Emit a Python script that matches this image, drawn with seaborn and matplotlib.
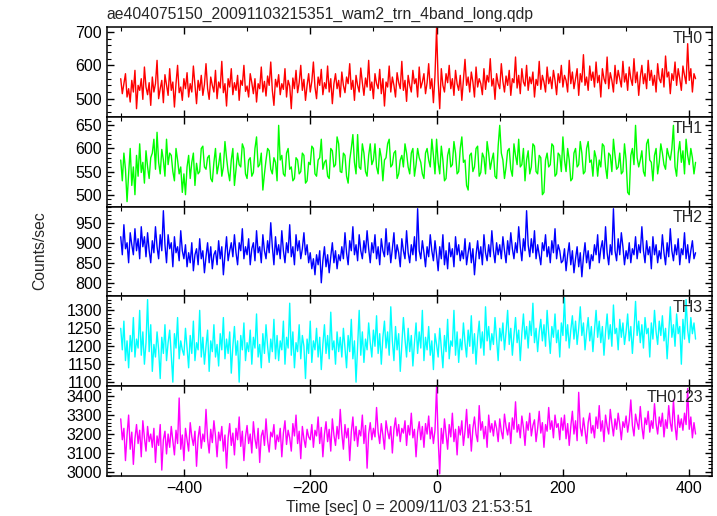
import numpy as np
import pandas as pd
import matplotlib
matplotlib.use("Agg")
import matplotlib.pyplot as plt
from matplotlib.ticker import MultipleLocator
import seaborn as sns

# light curve samples, 2.5 s bins starting at t = -500 s
th0 = [560, 515, 545, 575, 505, 530, 490, 555, 520, 585, 470, 540, 525, 560, 498, 595, 535, 512, 548, 480,
       565, 520, 545, 615, 500, 530, 555, 488, 572, 540, 510, 590, 525, 550, 475, 545, 600, 518, 535, 495,
       560, 530, 578, 505, 545, 520, 598, 540, 485, 555, 525, 570, 510, 542, 605, 530, 498, 565, 540, 520,
       585, 500, 550, 532, 612, 518, 545, 478, 560, 535, 590, 512, 548, 525, 570, 495, 555, 540, 600, 522,
       538, 505, 575, 548, 515, 560, 490, 545, 530, 595, 520, 552, 508, 568, 540, 610, 525, 480, 558, 535,
       572, 512, 545, 528, 590, 505, 555, 538, 470, 562, 530, 585, 518, 548, 600, 525, 558, 495, 540, 575,
       520, 552, 610, 535, 500, 565, 540, 588, 512, 548, 530, 598, 520, 560, 485, 545, 575, 530, 555, 505,
       580, 540, 518, 565, 545, 605, 528, 555, 495, 570, 540, 520, 592, 548, 510, 562, 535, 615, 525, 550,
       500, 575, 545, 530, 588, 515, 560, 478, 550, 535, 598, 520, 565, 540, 505, 578, 548, 530, 612, 525,
       555, 492, 570, 540, 520, 585, 545, 560, 505, 595, 532, 550, 575, 515, 548, 605, 530, 560, 488, 570,
       712, 555, 470, 590, 540, 520, 575, 548, 600, 530, 560, 510, 585, 545, 525, 570, 495, 555, 618, 540,
       565, 520, 580, 550, 505, 595, 535, 560, 545, 512, 590, 528, 570, 550, 620, 538, 560, 498, 575, 545,
       530, 605, 552, 520, 568, 540, 585, 510, 560, 548, 625, 532, 570, 515, 590, 550, 538, 600, 525, 565,
       545, 580, 505, 558, 540, 612, 528, 570, 550, 520, 595, 545, 565, 530, 585, 555, 512, 575, 548, 600,
       535, 570, 555, 520, 615, 545, 580, 530, 560, 590, 510, 575, 550, 632, 540, 565, 525, 598, 555, 580,
       535, 610, 548, 570, 505, 590, 560, 545, 625, 530, 578, 555, 520, 600, 545, 585, 560, 535, 612, 550,
       575, 525, 595, 560, 540, 620, 548, 580, 510, 565, 600, 545, 575, 530, 615, 555, 585, 540, 570, 520,
       605, 560, 548, 590, 535, 628, 565, 580, 515, 575, 555, 610, 540, 590, 560, 525, 598, 570, 545, 665,
       555, 590, 520, 575, 560]
th1 = [575, 530, 590, 555, 485, 545, 600, 520, 560, 500, 585, 540, 610, 548, 570, 525, 595, 560, 535, 580,
       590, 620, 555, 635, 570, 545, 598, 575, 540, 620, 565, 590, 585, 550, 530, 600, 575, 545, 560, 505,
       545, 500, 560, 585, 535, 570, 590, 520, 568, 545, 550, 600, 605, 560, 555, 580, 585, 535, 528, 570,
       600, 545, 565, 590, 540, 560, 615, 580, 550, 530, 575, 600, 520, 555, 590, 565, 560, 610, 600, 545,
       535, 575, 580, 540, 548, 600, 625, 560, 565, 590, 510, 545, 575, 600, 595, 555, 545, 580, 570, 530,
       650, 575, 585, 545, 540, 590, 600, 555, 560, 530, 535, 580, 575, 545, 550, 590, 585, 525, 530, 570,
       565, 605, 600, 545, 540, 575, 580, 620, 555, 570, 575, 540, 535, 600, 595, 560, 565, 625, 610, 550,
       548, 590, 585, 540, 525, 575, 600, 630, 570, 545, 630, 560, 555, 610, 590, 550, 540, 585, 610, 565,
       575, 610, 560, 545, 600, 580, 530, 575, 580, 610, 620, 560, 565, 590, 595, 535, 545, 575, 585, 560,
       610, 590, 560, 545, 590, 600, 540, 565, 600, 580, 570, 545, 535, 590, 600, 575, 560, 620, 585, 545,
       620, 570, 545, 605, 575, 530, 535, 585, 600, 560, 565, 615, 590, 545, 550, 600, 625, 570, 575, 520,
       510, 585, 590, 550, 560, 600, 605, 540, 548, 590, 580, 545, 615, 590, 555, 575, 590, 540, 535, 605,
       650, 590, 575, 535, 560, 595, 600, 555, 540, 610, 585, 565, 620, 560, 565, 600, 530, 575, 595, 545,
       560, 610, 605, 550, 545, 585, 580, 500, 505, 575, 590, 560, 565, 610, 605, 540, 545, 590, 585, 550,
       625, 575, 550, 600, 575, 530, 535, 590, 600, 560, 565, 615, 590, 545, 550, 600, 615, 570, 575, 540,
       595, 580, 540, 575, 560, 610, 605, 560, 535, 590, 585, 550, 620, 585, 555, 560, 590, 545, 550, 610,
       575, 505, 500, 585, 600, 565, 650, 580, 560, 575, 595, 550, 540, 610, 620, 575, 570, 530, 585, 600,
       545, 570, 610, 590, 565, 555, 600, 585, 575, 600, 650, 560, 540, 590, 615, 570, 595, 545, 620, 585,
       565, 600, 580, 545, 570]
th2 = [915, 870, 945, 885, 900, 850, 925, 895, 870, 935, 880, 910, 860, 940, 890, 915, 865, 925, 880, 850,
       905, 875, 940, 890, 860, 920, 880, 980, 895, 850, 920, 885, 900, 840, 915, 875, 890, 855, 930, 880,
       860, 895, 840, 875, 850, 900, 830, 870, 885, 845, 910, 860, 880, 825, 865, 900, 850, 890, 835, 870,
       880, 845, 905, 860, 890, 820, 870, 915, 855, 880, 900, 865, 920, 875, 845, 900, 880, 935, 860, 890,
       870, 910, 845, 885, 900, 855, 930, 875, 890, 850, 920, 880, 860, 905, 875, 950, 890, 845, 915, 870,
       895, 860, 930, 880, 850, 900, 875, 945, 865, 890, 845, 920, 880, 905, 860, 885, 925, 870, 895, 850,
       875, 835, 860, 820, 870, 845, 880, 800, 855, 890, 840, 870, 825, 865, 900, 850, 880, 835, 870, 855,
       890, 860, 925, 875, 845, 905, 880, 940, 870, 895, 855, 920, 880, 860, 905, 875, 930, 885, 850, 900,
       875, 920, 860, 890, 845, 910, 880, 865, 935, 870, 900, 850, 885, 925, 860, 895, 875, 840, 910, 880,
       860, 930, 875, 850, 895, 870, 915, 855, 985, 880, 860, 905, 875, 840, 890, 865, 920, 880, 855, 905,
       870, 830, 890, 860, 920, 845, 880, 835, 900, 865, 885, 840, 915, 870, 895, 855, 880, 860, 910, 845,
       875, 900, 850, 885, 820, 870, 905, 860, 890, 845, 920, 875, 855, 895, 865, 930, 880, 850, 900, 870,
       895, 860, 915, 880, 850, 905, 870, 925, 885, 860, 900, 875, 940, 890, 855, 910, 880, 980, 895, 865,
       910, 875, 930, 860, 895, 870, 845, 900, 880, 920, 865, 890, 850, 905, 875, 935, 860, 895, 880, 850,
       855, 885, 830, 870, 900, 845, 880, 825, 860, 890, 840, 875, 815, 865, 900, 850, 880, 835, 870, 855,
       895, 870, 920, 850, 885, 905, 860, 940, 875, 845, 895, 870, 985, 880, 855, 910, 870, 925, 890, 845,
       880, 860, 900, 850, 885, 870, 915, 860, 895, 875, 940, 880, 850, 905, 870, 890, 835, 915, 870, 895,
       850, 880, 860, 920, 875, 845, 900, 865, 935, 880, 855, 895, 870, 910, 845, 885, 870, 925, 860, 895,
       850, 880, 905, 860, 875]
th3 = [1250, 1190, 1270, 1160, 1215, 1140, 1230, 1185, 1280, 1170, 1220, 1195, 1300, 1175, 1240, 1150, 1210, 1330, 1185, 1260,
       1130, 1205, 1170, 1240, 1190, 1110, 1225, 1180, 1260, 1160, 1210, 1245, 1175, 1100, 1235, 1195, 1280, 1165, 1215, 1190,
       1175, 1250, 1195, 1140, 1230, 1180, 1270, 1160, 1210, 1190, 1300, 1170, 1225, 1150, 1200, 1245, 1130, 1215, 1185, 1260,
       1170, 1205, 1145, 1235, 1190, 1280, 1165, 1220, 1180, 1240, 1125, 1200, 1255, 1175, 1215, 1100, 1230, 1190, 1265, 1160,
       1210, 1185, 1245, 1150, 1225, 1195, 1290, 1170, 1205, 1140, 1235, 1180, 1260, 1200, 1155, 1220, 1185, 1275, 1165, 1230,
       1160, 1215, 1190, 1270, 1150, 1225, 1195, 1320, 1175, 1240, 1140, 1210, 1185, 1260, 1165, 1230, 1200, 1110, 1220, 1180,
       1270, 1155, 1215, 1190, 1250, 1170, 1225, 1135, 1205, 1260, 1180, 1230, 1165, 1295, 1190, 1215, 1150, 1240, 1185, 1225,
       1170, 1250, 1195, 1140, 1230, 1185, 1275, 1165, 1215, 1100, 1200, 1300, 1175, 1240, 1155, 1220, 1190, 1265, 1210, 1170,
       1245, 1200, 1285, 1180, 1235, 1150, 1225, 1270, 1195, 1240, 1175, 1310, 1215, 1160, 1255, 1190, 1235, 1130, 1205, 1280,
       1220, 1170, 1250, 1185, 1230, 1145, 1210, 1265, 1180, 1240, 1195, 1300, 1160, 1225, 1190, 1255, 1175, 1215, 1135, 1235,
       1205, 1170, 1250, 1195, 1140, 1230, 1185, 1275, 1165, 1215, 1200, 1300, 1175, 1240, 1155, 1220, 1190, 1265, 1210, 1170,
       1245, 1200, 1285, 1180, 1235, 1150, 1225, 1270, 1195, 1240, 1175, 1310, 1215, 1255, 1190, 1235, 1205, 1280, 1220, 1160,
       1250, 1215, 1265, 1190, 1240, 1300, 1205, 1250, 1175, 1230, 1280, 1210, 1245, 1160, 1235, 1290, 1220, 1255, 1195, 1270,
       1230, 1320, 1210, 1250, 1185, 1240, 1275, 1215, 1260, 1200, 1300, 1235, 1180, 1255, 1225, 1290, 1210, 1245, 1170, 1265,
       1230, 1335, 1215, 1260, 1195, 1245, 1285, 1220, 1270, 1205, 1250, 1310, 1230, 1265, 1190, 1240, 1280, 1215, 1255, 1185,
       1245, 1300, 1225, 1270, 1210, 1255, 1175, 1240, 1290, 1220, 1260, 1200, 1315, 1235, 1250, 1190, 1275, 1225, 1265, 1205,
       1240, 1290, 1215, 1255, 1180, 1245, 1325, 1230, 1270, 1210, 1260, 1195, 1280, 1235, 1250, 1170, 1265, 1220, 1300, 1240,
       1205, 1270, 1230, 1285, 1215, 1250, 1165, 1240, 1310, 1225, 1260, 1200, 1290, 1235, 1255, 1150, 1275, 1220, 1330, 1245,
       1210, 1280, 1235, 1265, 1220]
th0123 = [3280, 3170, 3230, 3060, 3195, 3300, 3120, 3210, 3040, 3175, 3250, 3150, 3220, 3080, 3270, 3180, 3110, 3240, 3160, 3200,
          3130, 3230, 3050, 3190, 3140, 3250, 3010, 3170, 3215, 3095, 3200, 3130, 3240, 3165, 3090, 3220, 3150, 3390, 3120, 3195,
          3060, 3230, 3170, 3110, 3260, 3185, 3140, 3215, 3030, 3180, 3240, 3125, 3200, 3160, 3330, 3175, 3100, 3225, 3155, 3270,
          3190, 3080, 3210, 3165, 3240, 3110, 3195, 3020, 3180, 3255, 3140, 3205, 3090, 3230, 3170, 3290, 3135, 3215, 3060, 3185,
          3245, 3150, 3200, 3100, 3265, 3175, 3125, 3230, 3050, 3190, 3220, 3140, 3280, 3165, 3105, 3210, 3185, 3250, 3120, 3195,
          3160, 3230, 3080, 3205, 3270, 3145, 3220, 3180, 3110, 3255, 3190, 3300, 3150, 3215, 3070, 3240, 3175, 3130, 3225, 3185,
          3170, 3250, 3130, 3220, 3190, 3290, 3150, 3235, 3080, 3200, 3265, 3160, 3225, 3110, 3280, 3195, 3140, 3240, 3175, 3330,
          3205, 3120, 3250, 3180, 3230, 3060, 3210, 3290, 3165, 3240, 3135, 3220, 3190, 3300, 3150, 3245, 3020, 3200, 3260, 3170,
          3230, 3185, 3340, 3210, 3150, 3255, 3195, 3120, 3270, 3215, 3175, 3240, 3100, 3225, 3285, 3190, 3250, 3160, 3230, 3205,
          3270, 3140, 3245, 3195, 3310, 3180, 3225, 3080, 3210, 3265, 3170, 3240, 3130, 3255, 3200, 3295, 3175, 3235, 3150, 3220,
          3450, 3180, 2990, 3230, 3150, 3280, 3200, 3120, 3250, 3185, 3310, 3160, 3225, 3090, 3240, 3195, 3270, 3140, 3215, 3330,
          3180, 3250, 3110, 3230, 3290, 3200, 3160, 3350, 3220, 3265, 3175, 3240, 3130, 3300, 3210, 3255, 3190, 3270, 3230, 3160,
          3280, 3215, 3175, 3305, 3240, 3195, 3260, 3150, 3285, 3225, 3370, 3210, 3250, 3180, 3295, 3235, 3140, 3265, 3220, 3310,
          3190, 3245, 3275, 3160, 3230, 3320, 3205, 3260, 3130, 3250, 3215, 3340, 3225, 3270, 3180, 3300, 3235, 3255, 3170, 3285,
          3220, 3300, 3175, 3255, 3140, 3240, 3320, 3200, 3270, 3165, 3420, 3235, 3190, 3285, 3220, 3150, 3260, 3310, 3205, 3245,
          3180, 3290, 3230, 3350, 3215, 3270, 3160, 3300, 3240, 3200, 3330, 3255, 3190, 3280, 3225, 3310, 3250, 3170, 3265, 3235,
          3295, 3210, 3270, 3380, 3245, 3190, 3305, 3260, 3225, 3345, 3240, 3175, 3285, 3250, 3320, 3210, 3270, 3230, 3360, 3255,
          3200, 3290, 3240, 3310, 3185, 3275, 3230, 3350, 3260, 3215, 3380, 3245, 3170, 3300, 3235, 3280, 3220, 3310, 3250, 3440,
          3225, 3290, 3180, 3260, 3200]

bands = ["TH0", "TH1", "TH2", "TH3", "TH0123"]
series = [th0, th1, th2, th3, th0123]
colors = ["#ff0000", "#00ff00", "#0000ff", "#00ffff", "#ff00ff"]
ylims = [(445, 714), (474, 668), (766, 990), (1089, 1339), (2980, 3453)]
ymajor = [100, 50, 50, 50, 100]
yminor = [20, 10, 10, 10, 20]

sns.set_style("ticks")
plt.rcParams["font.family"] = ["Liberation Sans", "DejaVu Sans"]

fig, axes = plt.subplots(5, 1, figsize=(7.17, 5.16), dpi=100, sharex=True)
fig.subplots_adjust(left=0.149, right=0.993, top=0.947, bottom=0.078, hspace=0)

for ax, name, vals, col, yl, mj, mn in zip(axes, bands, series, colors, ylims, ymajor, yminor):
    df = pd.DataFrame({"time": -500 + 2.5 * np.arange(len(vals)), "rate": vals})
    sns.lineplot(data=df, x="time", y="rate", ax=ax, color=col, lw=1.0, estimator=None)
    ax.set_ylim(*yl)
    ax.set_xlim(-522, 436)
    ax.yaxis.set_major_locator(MultipleLocator(mj))
    ax.yaxis.set_minor_locator(MultipleLocator(mn))
    ax.xaxis.set_major_locator(MultipleLocator(200))
    ax.xaxis.set_minor_locator(MultipleLocator(100))
    ax.tick_params(which="both", direction="in", top=True, right=True, labelsize=11.5, colors="black")
    ax.tick_params(which="major", length=5, width=1)
    ax.tick_params(which="minor", length=3, width=0.8)
    for sp in ax.spines.values():
        sp.set_linewidth(1.1)
        sp.set_color("black")
    ax.set_ylabel("")
    ax.set_xlabel("")
    ax.text(0.985, 0.96, name, transform=ax.transAxes, ha="right", va="top", fontsize=11.5)

axes[-1].set_xlabel("Time [sec] 0 = 2009/11/03 21:53:51", fontsize=11.3, labelpad=3)
fig.text(0.056, 0.515, "Counts/sec", rotation=90, ha="center", va="center", fontsize=11.3)
fig.text(0.149, 0.972, "ae404075150_20091103215351_wam2_trn_4band_long.qdp", ha="left", va="center",
         fontsize=11.3)

plt.savefig("out.png", dpi=100)
plt.close()
